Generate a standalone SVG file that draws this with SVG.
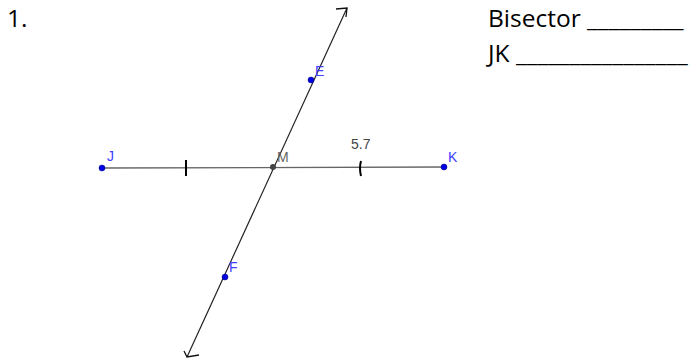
<svg xmlns="http://www.w3.org/2000/svg" width="694" height="363" viewBox="0 0 694 363">
<style>
.big{font-family:"Open Sans","Liberation Sans",sans-serif;font-size:24.5px;fill:#000}
.lbl{font-family:"Liberation Sans",Arial,sans-serif;font-size:14px;fill:#4040ff}
.pt{fill:#0000e0;stroke:#000080;stroke-width:0.5}
.tick{stroke:#000;stroke-width:2;fill:none}
</style>
<rect width="694" height="363" fill="#fff"/>
<text class="big" x="7" y="27">1.</text>
<text class="big" x="488" y="27">Bisector _________</text>
<text class="big" x="488" y="62">JK ________________</text>
<g id="connectors">
<line x1="102" y1="168" x2="444" y2="167" stroke="#666" stroke-width="1.3"/>
<line x1="187" y1="357" x2="347" y2="8" stroke="#222" stroke-width="1.2"/>
<path d="M336 9 L347 8 L346 17" fill="none" stroke="#111" stroke-width="1.3"/>
<path d="M184 351 L187 357 L199 355" fill="none" stroke="#111" stroke-width="1.3"/>
<line class="tick" x1="186" y1="160" x2="186" y2="176"/>
<path class="tick" d="M361 161 Q359 168 361 176"/>
</g>
<g id="J"><circle class="pt" cx="102" cy="168" r="3"/><text class="lbl" x="107" y="161">J</text></g>
<g id="K"><circle class="pt" cx="444" cy="167" r="3"/><text class="lbl" x="448" y="162">K</text></g>
<g id="E"><circle class="pt" cx="311" cy="80" r="3"/><text class="lbl" x="315" y="76">E</text></g>
<g id="F"><circle class="pt" cx="225" cy="277" r="3"/><text class="lbl" x="229" y="272">F</text></g>
<g id="M"><circle cx="273" cy="167" r="3" fill="#444"/><text x="277" y="162" style="font-family:'Liberation Sans',Arial,sans-serif;font-size:14px;fill:#666">M</text></g>
<g id="len"><text x="351" y="149" style="font-family:'Liberation Sans',Arial,sans-serif;font-size:14px;fill:#444">5.7</text></g>
</svg>
